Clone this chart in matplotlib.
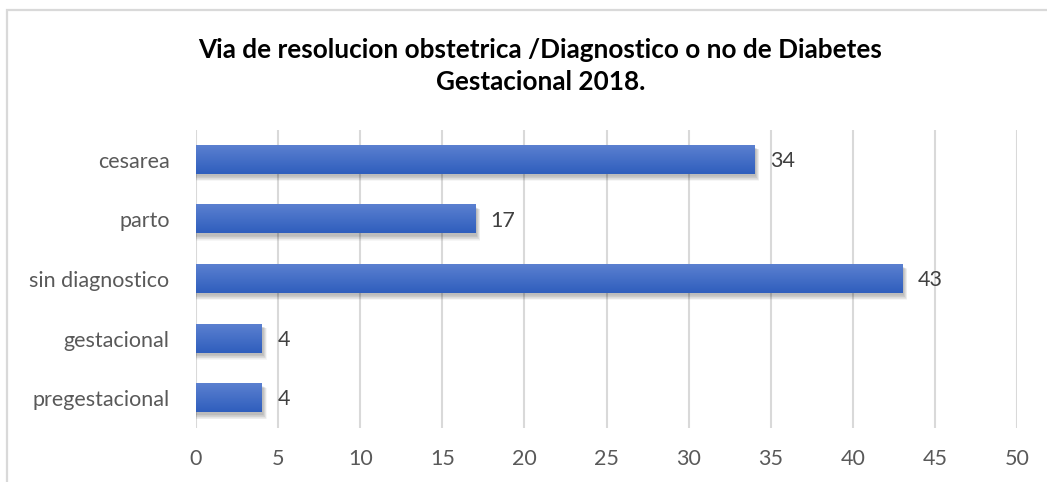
import numpy as np
import matplotlib
matplotlib.use("Agg")
import matplotlib.pyplot as plt
from matplotlib.patches import Rectangle
from matplotlib import font_manager as fm
from matplotlib.colors import LinearSegmentedColormap

categories = ["cesarea", "parto", "sin diagnostico", "gestacional", "pregestacional"]
values = [34, 17, 43, 4, 4]
title = "Via de resolucion obstetrica /Diagnostico o no de Diabetes\nGestacional 2018."
xticks = [0, 5, 10, 15, 20, 25, 30, 35, 40, 45, 50]

avail = {f.name for f in fm.fontManager.ttflist}
fam = "Lato" if "Lato" in avail else "DejaVu Sans"
plt.rcParams["font.family"] = [fam, "DejaVu Sans"]

W, H = 1047, 482
fig = plt.figure(figsize=(W / 100, H / 100), dpi=100)
fig.patch.set_facecolor("white")

# outer chart border
fig.add_artist(Rectangle((7 / W, -0.1), 1.2, 1 - 10 / H + 0.1, transform=fig.transFigure,
                         fill=False, edgecolor="#D9D9D9", linewidth=1.6))

ax = fig.add_axes([196 / W, 1 - 428 / H, (1017 - 196) / W, (428 - 130) / H])
n = len(categories)
ypos = np.arange(n)[::-1]
bh = 0.47

ax.set_xlim(0, 50)
ax.set_ylim(-0.5, n - 0.5)
ax.set_xticks(xticks)
ax.set_yticks(ypos)
ax.set_yticklabels(categories)
ax.grid(axis="x", color="#D9D9D9", linewidth=1.5, zorder=0)
ax.set_axisbelow(True)
for s in ax.spines.values():
    s.set_visible(False)
ax.tick_params(axis="both", length=0, labelsize=15.5, colors="#595959")
ax.tick_params(axis="y", pad=19)
ax.tick_params(axis="x", pad=15)

cmap = LinearSegmentedColormap.from_list("g", ["#2F5EBD", "#5B80D0"])
grad = np.linspace(0, 1, 64).reshape(-1, 1)
for y, v in zip(ypos, values):
    # soft shadow, mostly below and slightly right
    layers = 8
    for k in range(layers):
        spread = (layers - k) / layers
        ax.add_patch(Rectangle((0.0, y - bh / 2 - 0.03 - 0.09 * spread),
                               v + 0.08 + 0.22 * spread,
                               bh + 0.06 * spread,
                               facecolor="black", alpha=0.035, edgecolor="none", zorder=2))
    ax.imshow(grad, extent=(0, v, y - bh / 2, y + bh / 2), cmap=cmap, aspect="auto",
              origin="lower", zorder=3, interpolation="bilinear")
    ax.text(v + 0.95, y - 0.02, str(v), va="center", ha="left", fontsize=15.5, color="#404040", zorder=4)

ax.set_xlim(0, 50)
ax.set_ylim(-0.5, n - 0.5)
ax.set_aspect("auto")

fig.text(0.516, 1 - 66 / H, title, ha="center", va="center", fontsize=18.8, fontweight="bold",
         color="black", linespacing=1.42)

fig.savefig("out.png", dpi=100)
